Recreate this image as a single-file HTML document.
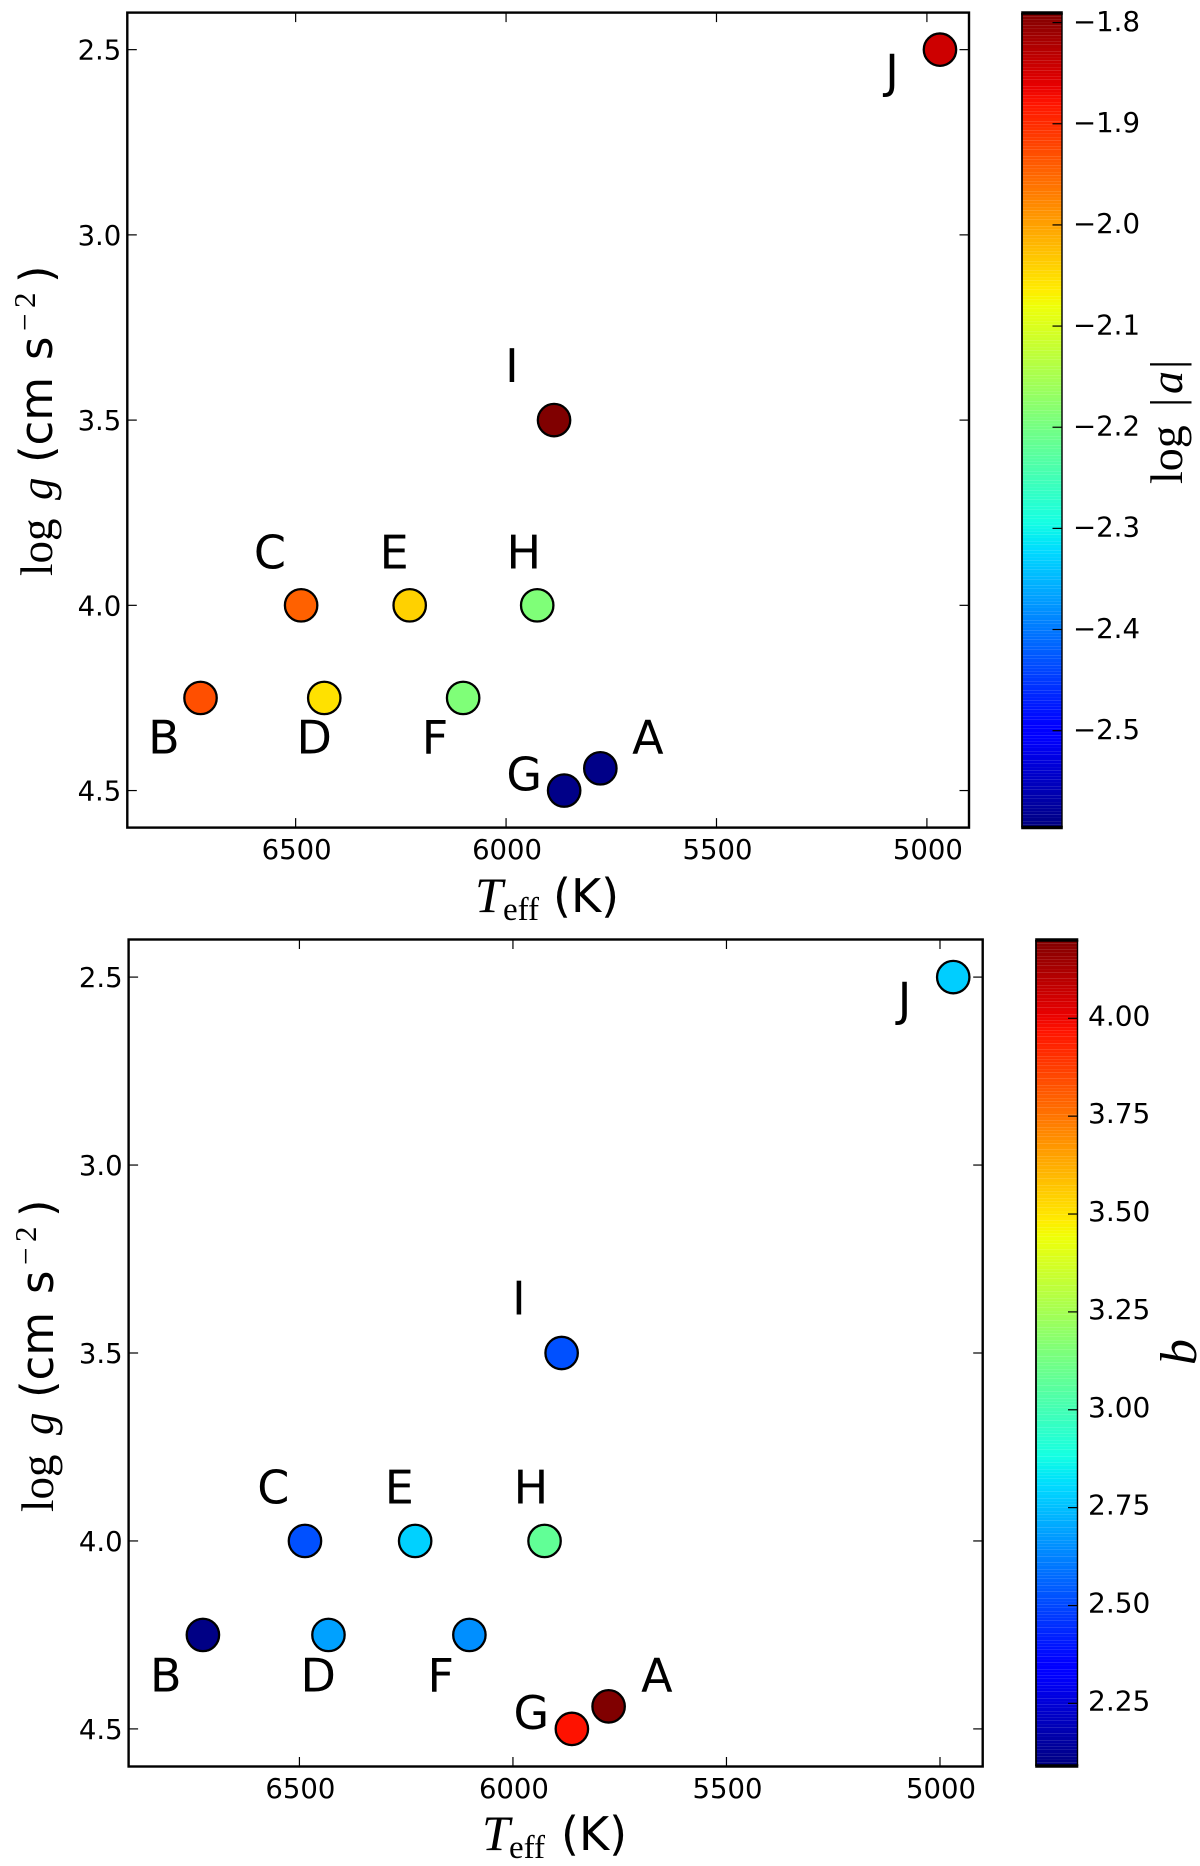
<!DOCTYPE html>
<html lang="en">
<head>
<meta charset="utf-8">
<title>Surface gravity vs effective temperature</title>
<style>
html,body{margin:0;padding:0;background:#fff;}
svg{display:block;}
text{fill:#000;}
.sans{font-family:"DejaVu Sans","Liberation Sans",sans-serif;}
.serif{font-family:"Liberation Serif",serif;}
</style>
</head>
<body>
<svg id="figure" xmlns="http://www.w3.org/2000/svg" width="1200" height="1866" viewBox="0 0 1200 1866">
  <rect x="0" y="0" width="1200" height="1866" fill="#fff"/>
  <g id="panel-a"></g>
  <g id="panel-b"></g>

  <text class="sans" font-size="45" transform="translate(52,576) rotate(-90)"><tspan class="serif" x="0">log</tspan><tspan class="serif" font-style="italic" x="76">g</tspan><tspan x="113">(cm</tspan><tspan x="216">s</tspan><tspan class="serif" font-size="31" x="245" y="-17">−</tspan><tspan class="serif" font-size="31" x="268" y="-17">2</tspan><tspan x="293" y="0">)</tspan></text>
  <text class="sans" font-size="46" y="912"><tspan class="serif" font-style="italic" font-size="50" x="475">T</tspan><tspan class="serif" font-size="33" x="503" y="920">eff</tspan><tspan x="553" y="912">(K)</tspan></text>
  <text class="serif" font-size="46" transform="translate(1182,484) rotate(-90)"><tspan x="0">log</tspan><tspan x="77">|</tspan><tspan font-style="italic" x="90">a</tspan><tspan x="115">|</tspan></text>

  <text class="sans" font-size="45" transform="translate(53,1512) rotate(-90)"><tspan class="serif" x="0">log</tspan><tspan class="serif" font-style="italic" x="77">g</tspan><tspan x="114">(cm</tspan><tspan x="218">s</tspan><tspan class="serif" font-size="31" x="247" y="-17">−</tspan><tspan class="serif" font-size="31" x="270" y="-17">2</tspan><tspan x="295" y="0">)</tspan></text>
  <text class="sans" font-size="46" y="1850"><tspan class="serif" font-style="italic" font-size="50" x="482">T</tspan><tspan class="serif" font-size="33" x="509" y="1858">eff</tspan><tspan x="561" y="1850">(K)</tspan></text>
  <text class="serif" font-size="52" font-style="italic" text-anchor="middle" transform="translate(1196,1352) rotate(-90)">b</text>
</svg>
<script>
// Data
var starNames = ['A', 'B', 'C', 'D', 'E', 'F', 'G', 'H', 'I', 'J'];
var teffValues = [5776, 6726, 6487, 6432, 6229, 6102, 5862, 5926, 5886, 4969];
var loggValues = [4.44, 4.25, 4.0, 4.25, 4.0, 4.25, 4.5, 4.0, 3.5, 2.5];
var logAValues = [-2.59, -1.93, -1.946, -2.055, -2.041, -2.19, -2.59, -2.19, -1.79, -1.844];
var bValues = [4.2, 2.1, 2.52, 2.686, 2.786, 2.649, 3.97, 3.077, 2.52, 2.78];
var labelTeff = [5663, 6813, 6561, 6456, 6266, 6169, 5957, 5958, 5986, 5083];
var labelLogg = [4.4, 4.4, 3.9, 4.4, 3.9, 4.4, 4.5, 3.9, 3.397, 2.602];
var xTickValues = [6500, 6000, 5500, 5000];
var xTickLabels = ['6500', '6000', '5500', '5000'];
var yTickValues = [2.5, 3.0, 3.5, 4.0, 4.5];
var yTickLabels = ['2.5', '3.0', '3.5', '4.0', '4.5'];
var logATickValues = [-1.8, -1.9, -2.0, -2.1, -2.2, -2.3, -2.4, -2.5];
var logATickLabels = ['−1.8', '−1.9', '−2.0', '−2.1', '−2.2', '−2.3', '−2.4', '−2.5'];
var bTickValues = [4.0, 3.75, 3.5, 3.25, 3.0, 2.75, 2.5, 2.25];
var bTickLabels = ['4.00', '3.75', '3.50', '3.25', '3.00', '2.75', '2.50', '2.25'];

var SVG_NS = 'http://www.w3.org/2000/svg';

function clamp01(v) { return Math.max(0, Math.min(1, v)); }
function lerpStops(t, xs, ys) {
  if (t <= xs[0]) return ys[0];
  for (var i = 1; i < xs.length; i++) {
    if (t <= xs[i]) return ys[i - 1] + (ys[i] - ys[i - 1]) * (t - xs[i - 1]) / (xs[i] - xs[i - 1]);
  }
  return ys[ys.length - 1];
}
function jet(t) {
  t = clamp01(t);
  var r = lerpStops(t, [0, 0.35, 0.66, 0.89, 1], [0, 0, 1, 1, 0.5]);
  var g = lerpStops(t, [0, 0.125, 0.375, 0.64, 0.91, 1], [0, 0, 1, 1, 0, 0]);
  var b = lerpStops(t, [0, 0.11, 0.34, 0.65, 1], [0.5, 1, 1, 0, 0]);
  return 'rgb(' + Math.round(r * 255) + ',' + Math.round(g * 255) + ',' + Math.round(b * 255) + ')';
}
function makeLine(parent, x1, y1, x2, y2, width) {
  var el = document.createElementNS(SVG_NS, 'line');
  el.setAttribute('x1', x1);
  el.setAttribute('y1', y1);
  el.setAttribute('x2', x2);
  el.setAttribute('y2', y2);
  el.setAttribute('stroke', '#000');
  el.setAttribute('stroke-width', width);
  parent.appendChild(el);
  return el;
}
function makeText(parent, x, y, str, size, anchor) {
  var el = document.createElementNS(SVG_NS, 'text');
  el.setAttribute('class', 'sans');
  el.setAttribute('x', x);
  el.setAttribute('y', y);
  el.setAttribute('font-size', size);
  el.setAttribute('text-anchor', anchor);
  el.textContent = str;
  parent.appendChild(el);
  return el;
}

function drawPanel(parent, box, barBox, colorValues, vmin, vmax, barTickValues, barTickLabels, barLabelX, barLabelDy, barFont) {
  var xMax = 6900, xMin = 4900, yMin = 2.4, yMax = 4.6;
  function xScale(t) { return box.left + (xMax - t) / (xMax - xMin) * (box.right - box.left); }
  function yScale(g) { return box.top + (g - yMin) / (yMax - yMin) * (box.bottom - box.top); }
  function barScale(v) { return barBox.top + (vmax - v) / (vmax - vmin) * (barBox.bottom - barBox.top); }
  function norm(v) { return (v - vmin) / (vmax - vmin); }

  var i, el;

  el = document.createElementNS(SVG_NS, 'rect');
  
  
  el.setAttribute('x', box.left);
  el.setAttribute('y', box.top);
  el.setAttribute('width', box.right - box.left);
  el.setAttribute('height', box.bottom - box.top);
  el.setAttribute('fill', 'none');
  el.setAttribute('stroke', '#000');
  el.setAttribute('stroke-width', 2.4);
  parent.appendChild(el);

  for (i = 0; i < xTickValues.length; i++) {
    var tx = xScale(xTickValues[i]);
    el = makeLine(parent, tx, box.bottom, tx, box.bottom - 9.5, 1.2);
    
    
    el = makeLine(parent, tx, box.top, tx, box.top + 9.5, 1.2);
    
    
    el = makeText(parent, tx + 1, box.bottom + 31.5, xTickLabels[i], 27.5, 'middle');
    
    
  }
  for (i = 0; i < yTickValues.length; i++) {
    var ty = yScale(yTickValues[i]);
    el = makeLine(parent, box.left, ty, box.left + 9.5, ty, 1.2);
    
    
    el = makeLine(parent, box.right, ty, box.right - 9.5, ty, 1.2);
    
    
    el = makeText(parent, box.left - 6, ty + 10, yTickLabels[i], 27.5, 'end');
    
    
  }

  for (i = 0; i < starNames.length; i++) {
    el = document.createElementNS(SVG_NS, 'circle');
    
    
    el.setAttribute('cx', xScale(teffValues[i]));
    el.setAttribute('cy', yScale(loggValues[i]));
    el.setAttribute('r', 16.2);
    el.setAttribute('fill', jet(norm(colorValues[i])));
    el.setAttribute('stroke', '#000');
    el.setAttribute('stroke-width', 2.3);
    parent.appendChild(el);

    el = makeText(parent, xScale(labelTeff[i]), yScale(labelLogg[i]), starNames[i], 46, 'middle');
    
    
  }

  var bar = document.createElementNS(SVG_NS, 'g');
  
  
  parent.appendChild(bar);

  var levels = 256;
  var stepH = (barBox.bottom - barBox.top) / levels;
  for (i = 0; i < levels; i++) {
    el = document.createElementNS(SVG_NS, 'rect');
    
    
    el.setAttribute('x', barBox.left);
    el.setAttribute('y', barBox.top + i * stepH);
    el.setAttribute('width', barBox.right - barBox.left);
    el.setAttribute('height', stepH);
    el.setAttribute('fill', jet(1 - (i + 0.5) / levels));
    bar.appendChild(el);
  }

  el = makeLine(bar, barBox.left, barBox.top, barBox.left, barBox.bottom, 1.8);
  
  
  el = makeLine(bar, barBox.right, barBox.top, barBox.right, barBox.bottom, 1.4);
  
  
  el = makeLine(bar, barBox.left - 0.8, barBox.top, barBox.right + 0.8, barBox.top, 3.4);
  
  
  el = makeLine(bar, barBox.left - 0.8, barBox.bottom, barBox.right + 0.8, barBox.bottom, 3.4);
  
  

  for (i = 0; i < barTickValues.length; i++) {
    var by = barScale(barTickValues[i]);
    el = makeLine(bar, barBox.right, by, barBox.right - 9.5, by, 1.2);
    
    
    el = makeText(bar, barLabelX, by + barLabelDy, barTickLabels[i], barFont, 'start');
    
    
  }
}

drawPanel(
  document.getElementById('panel-a'),
  { left: 127.3, right: 969, top: 12.6, bottom: 827.6 },
  { left: 1022, right: 1062, top: 13, bottom: 827.5 },
  logAValues, -2.5957, -1.7905,
  logATickValues, logATickLabels, 1073, 8.3, 27.6
);
drawPanel(
  document.getElementById('panel-b'),
  { left: 128.6, right: 982.7, top: 939.5, bottom: 1766.5 },
  { left: 1036, right: 1077.5, top: 940, bottom: 1766 },
  bValues, 2.09, 4.2,
  bTickValues, bTickLabels, 1088, 7, 28
);
</script>
</body>
</html>
